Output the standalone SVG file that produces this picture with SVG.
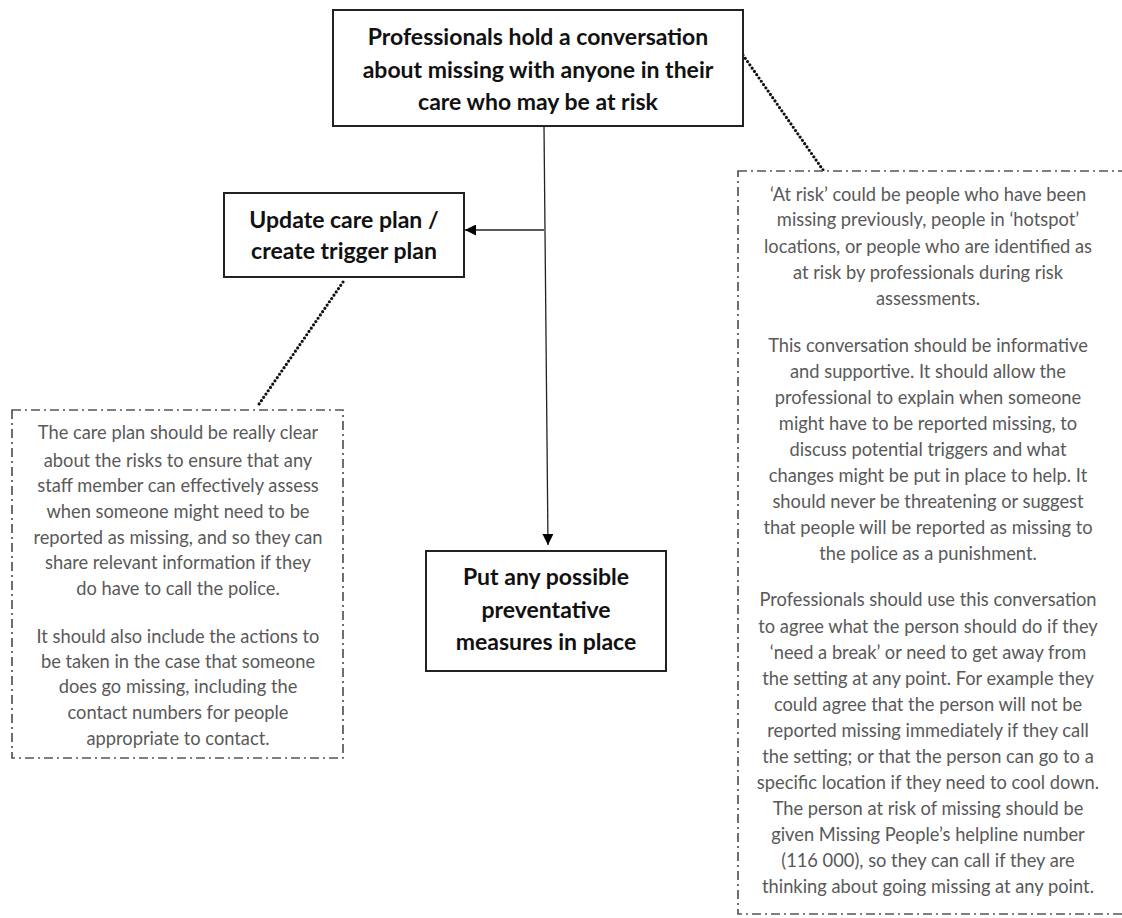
<svg xmlns="http://www.w3.org/2000/svg" width="1122" height="918" viewBox="0 0 1122 918">
<defs>
<marker id="arr" viewBox="0 0 10 10" refX="10" refY="5" markerWidth="11" markerHeight="11" markerUnits="userSpaceOnUse" orient="auto">
<path d="M0,0 L10,5 L0,10 Z" fill="#000"/>
</marker>
<style>
.box{fill:#fff;stroke:#222;stroke-width:2}
.note{fill:#fff;stroke:#555;stroke-width:1.7;stroke-dasharray:9 4 2 4}
.bt{font-family:Lato,"Liberation Sans",sans-serif;font-weight:bold;font-size:23px;fill:#111;text-anchor:middle}
.nt{font-family:Lato,"Liberation Sans",sans-serif;font-size:18.3px;fill:#595959;text-anchor:middle}
.line{fill:none;stroke:#222;stroke-width:1.3}
.dot{fill:none;stroke:#111;stroke-width:3.2;stroke-linecap:round;stroke-dasharray:0 4}
</style>
</defs>
<rect width="1122" height="918" fill="#fff"/>
<g id="connectors">
<path class="line" d="M544,126 L548,545" marker-end="url(#arr)"/>
<path class="line" d="M544,230 L465,230" marker-end="url(#arr)"/>
<path class="dot" d="M743,55 L823,170"/>
<path class="dot" d="M343,282 L257,407"/>
</g>
<g id="node-top">
<rect class="box" x="333" y="10" width="410" height="116"/>
<text class="bt" x="538" y="45">Professionals hold a conversation</text>
<text class="bt" x="538" y="78">about missing with anyone in their</text>
<text class="bt" x="538" y="110">care who may be at risk</text>
</g>
<g id="node-update">
<rect class="box" x="224" y="193" width="240" height="84"/>
<text class="bt" x="344" y="228">Update care plan /</text>
<text class="bt" x="344" y="259">create trigger plan</text>
</g>
<g id="node-measures">
<rect class="box" x="426" y="551" width="240" height="120"/>
<text class="bt" x="546" y="585">Put any possible</text>
<text class="bt" x="546" y="618">preventative</text>
<text class="bt" x="546" y="650">measures in place</text>
</g>
<g id="note-left">
<rect class="note" x="12" y="410" width="331" height="348"/>
<text class="nt" x="178" y="439">The care plan should be really clear</text>
<text class="nt" x="178" y="467">about the risks to ensure that any</text>
<text class="nt" x="178" y="492">staff member can effectively assess</text>
<text class="nt" x="178" y="518">when someone might need to be</text>
<text class="nt" x="178" y="544">reported as missing, and so they can</text>
<text class="nt" x="178" y="569">share relevant information if they</text>
<text class="nt" x="178" y="595">do have to call the police.</text>
<text class="nt" x="178" y="643">It should also include the actions to</text>
<text class="nt" x="178" y="668">be taken in the case that someone</text>
<text class="nt" x="178" y="693">does go missing, including the</text>
<text class="nt" x="178" y="719">contact numbers for people</text>
<text class="nt" x="178" y="745">appropriate to contact.</text>
</g>
<g id="note-right">
<rect class="note" x="738" y="171" width="400" height="743"/>
<text class="nt" x="928" y="201">‘At risk’ could be people who have been</text>
<text class="nt" x="928" y="226">missing previously, people in ‘hotspot’</text>
<text class="nt" x="928" y="253">locations, or people who are identified as</text>
<text class="nt" x="928" y="279">at risk by professionals during risk</text>
<text class="nt" x="928" y="305">assessments.</text>
<text class="nt" x="928" y="352">This conversation should be informative</text>
<text class="nt" x="928" y="378">and supportive. It should allow the</text>
<text class="nt" x="928" y="404">professional to explain when someone</text>
<text class="nt" x="928" y="430">might have to be reported missing, to</text>
<text class="nt" x="928" y="456">discuss potential triggers and what</text>
<text class="nt" x="928" y="482">changes might be put in place to help. It</text>
<text class="nt" x="928" y="508">should never be threatening or suggest</text>
<text class="nt" x="928" y="534">that people will be reported as missing to</text>
<text class="nt" x="928" y="560">the police as a punishment.</text>
<text class="nt" x="928" y="606">Professionals should use this conversation</text>
<text class="nt" x="928" y="633">to agree what the person should do if they</text>
<text class="nt" x="928" y="659">‘need a break’ or need to get away from</text>
<text class="nt" x="928" y="685">the setting at any point. For example they</text>
<text class="nt" x="928" y="711">could agree that the person will not be</text>
<text class="nt" x="928" y="737">reported missing immediately if they call</text>
<text class="nt" x="928" y="763">the setting; or that the person can go to a</text>
<text class="nt" x="928" y="789">specific location if they need to cool down.</text>
<text class="nt" x="928" y="815">The person at risk of missing should be</text>
<text class="nt" x="928" y="841">given Missing People’s helpline number</text>
<text class="nt" x="928" y="867">(116 000), so they can call if they are</text>
<text class="nt" x="928" y="893">thinking about going missing at any point.</text>
</g>
</svg>
